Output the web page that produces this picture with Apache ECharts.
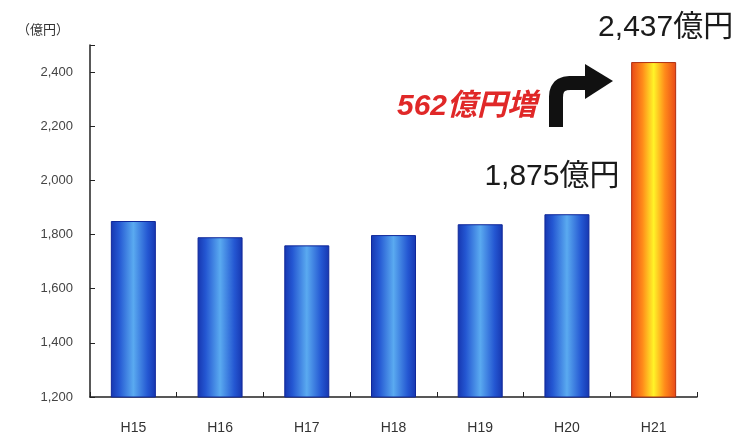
<!DOCTYPE html>
<html>
<head>
<meta charset="utf-8">
<script src="https://cdn.jsdelivr.net/npm/echarts@6/dist/echarts.min.js"></script>
<style>html,body{margin:0;padding:0;background:#fff}#c{width:740px;height:435px}</style>
</head>
<body>
<div id="c"></div>
<script>
const categories = ['H15', 'H16', 'H17', 'H18', 'H19', 'H20', 'H21'];
const values = [1850, 1790, 1760, 1798, 1838, 1875, 2437];
const yTicks = [1200, 1400, 1600, 1800, 2000, 2200, 2400];
const unitLabel = '（億円）';
const increaseLabel = '562億円増';

const FONT = '"Liberation Sans", Arial, "Noto Sans CJK JP", sans-serif';
const blueGrad = new echarts.graphic.LinearGradient(0, 0, 1, 0, [
  {offset: 0, color: '#1636b0'},
  {offset: 0.18, color: '#2457d2'},
  {offset: 0.5, color: '#5aaaf0'},
  {offset: 0.82, color: '#2457d2'},
  {offset: 1, color: '#1636b0'}
]);
const orangeGrad = new echarts.graphic.LinearGradient(0, 0, 1, 0, [
  {offset: 0, color: '#e84818'},
  {offset: 0.25, color: '#ff8a1a'},
  {offset: 0.5, color: '#fff428'},
  {offset: 0.75, color: '#ff8a1a'},
  {offset: 1, color: '#e84818'}
]);

const data = values.map((v, i) => {
  const last = i === values.length - 1;
  const item = {
    value: v,
    itemStyle: {
      color: last ? orangeGrad : blueGrad,
      borderColor: last ? '#b03010' : '#10289a',
      borderWidth: 1
    }
  };
  if (i === values.length - 1 || i === values.length - 2) {
    item.label = {
      show: true,
      position: 'top',
      distance: last ? 19 : 22,
      offset: last ? [12, 0] : [-15, 0],
      formatter: p => p.value.toLocaleString('en-US') + '億円',
      fontSize: 30,
      fontFamily: FONT,
      color: '#1a1a1a'
    };
  }
  return item;
});

// arrow shaft corner (quadratic approximation)
const shaft = [[556, 127], [556, 97]];
for (let k = 1; k <= 6; k++) {
  const t = k / 6;
  const x = (1 - t) * (1 - t) * 556 + 2 * (1 - t) * t * 556 + t * t * 570;
  const y = (1 - t) * (1 - t) * 97 + 2 * (1 - t) * t * 83 + t * t * 83;
  shaft.push([x, y]);
}
shaft.push([590, 83]);

const chart = echarts.init(document.getElementById('c'), null, {renderer: 'canvas'});
chart.setOption({
  animation: false,
  backgroundColor: '#fff',
  grid: {left: 90, right: 43, top: 45, bottom: 37},
  xAxis: {
    type: 'category',
    data: categories,
    boundaryGap: true,
    axisLine: {lineStyle: {color: '#222', width: 1.5}},
    axisTick: {show: true, inside: true, length: 5, lineStyle: {color: '#222'}},
    axisLabel: {fontSize: 14, color: '#333', fontFamily: FONT, margin: 24}
  },
  yAxis: {
    type: 'value',
    min: 1200,
    max: 2500,
    interval: 200,
    splitLine: {show: false},
    axisLine: {show: true, lineStyle: {color: '#222', width: 1.5}},
    axisTick: {show: true, inside: true, length: 5, lineStyle: {color: '#222'}},
    axisLabel: {
      fontSize: 13, color: '#444', fontFamily: FONT, margin: 17,
      formatter: v => yTicks.includes(v) ? v.toLocaleString('en-US') : ''
    }
  },
  series: [{
    type: 'bar',
    data: data,
    barWidth: 45
  }],
  graphic: [
    {type: 'text', x: 17, y: 30, style: {text: unitLabel, fill: '#333', font: '13px ' + FONT, textVerticalAlign: 'middle'}},
    {type: 'text', x: 537, y: 107, style: {text: increaseLabel, font: 'italic bold 30px ' + FONT, fill: '#e02828', textAlign: 'right', textVerticalAlign: 'middle'}},
    {type: 'polyline', shape: {points: shaft}, style: {stroke: '#111', lineWidth: 14, fill: null, lineJoin: 'round'}},
    {type: 'polygon', shape: {points: [[585, 64], [613, 81], [585, 99]]}, style: {fill: '#111'}}
  ]
});
</script>
</body>
</html>
